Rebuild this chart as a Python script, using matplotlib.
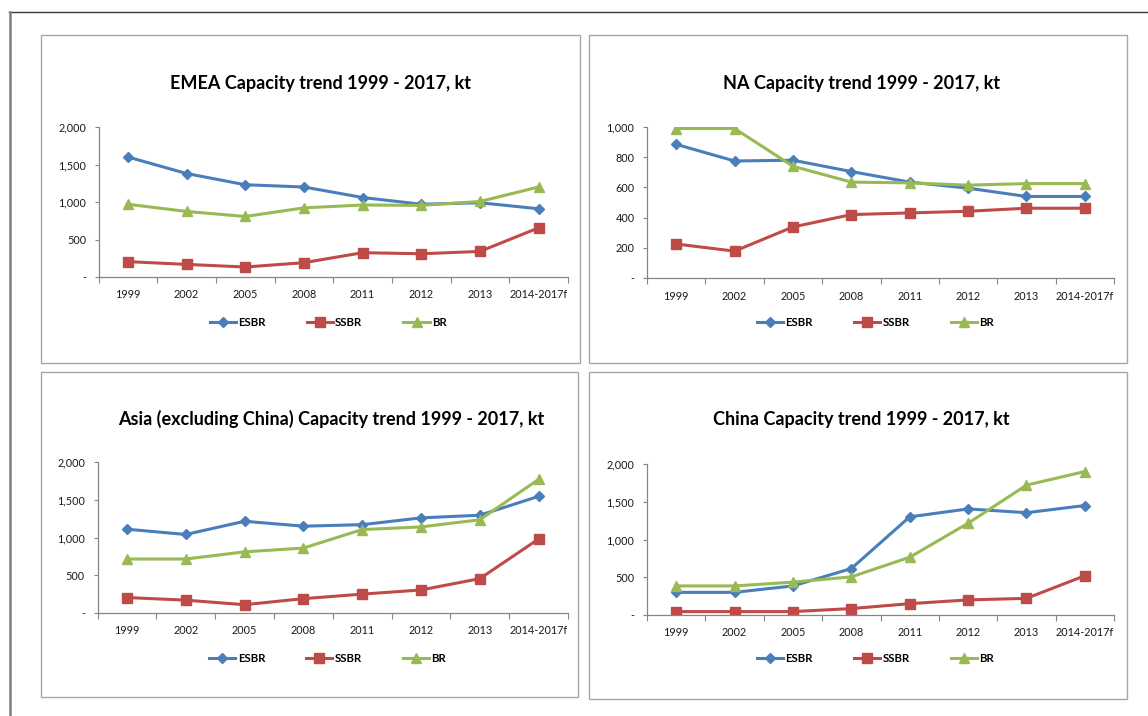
import matplotlib
matplotlib.use("Agg")
import matplotlib.pyplot as plt
from matplotlib.lines import Line2D
from matplotlib.patches import Rectangle
from matplotlib.ticker import FixedLocator, FuncFormatter

plt.rcParams["font.family"] = ["Lato", "DejaVu Sans"]

categories = ["1999", "2002", "2005", "2008", "2011", "2012", "2013", "2014-2017f"]

emea_esbr = [1600, 1380, 1230, 1200, 1060, 970, 990, 910]
emea_ssbr = [205, 168, 133, 191, 324, 310, 341, 656]
emea_br = [970, 874, 807, 922, 960, 955, 1007, 1200]

na_esbr = [885, 775, 780, 705, 635, 595, 540, 540]
na_ssbr = [225, 178, 338, 420, 431, 442, 462, 462]
na_br = [990, 990, 740, 635, 630, 615, 625, 625]

asia_esbr = [1110, 1040, 1215, 1150, 1170, 1260, 1295, 1545]
asia_ssbr = [205, 170, 110, 190, 250, 305, 455, 980]
asia_br = [715, 715, 810, 860, 1105, 1140, 1235, 1770]

china_esbr = [300, 300, 385, 615, 1300, 1405, 1355, 1450]
china_ssbr = [45, 45, 45, 85, 150, 200, 220, 520]
china_br = [385, 385, 435, 505, 765, 1215, 1720, 1900]

titles = [
    "EMEA Capacity trend 1999 - 2017, kt",
    "NA Capacity trend 1999 - 2017, kt",
    "Asia (excluding China) Capacity trend 1999 - 2017, kt",
    "China Capacity trend 1999 - 2017, kt",
]
y_max = [2000, 1000, 2000, 2000]
y_step = [500, 200, 500, 500]

series_names = ["ESBR", "SSBR", "BR"]
colors = ["#4A7EBB", "#BE4B48", "#98B954"]
markers = ["D", "s", "^"]
marker_sizes = [5.5, 7.5, 7.5]

W, H = 1148, 716
fig = plt.figure(figsize=(W / 100, H / 100), dpi=100)


def fx(x):
    return x / W


def fy(y):
    return 1 - y / H


# outer page frame
fig.add_artist(Line2D([fx(9), fx(W)], [fy(12), fy(12)], color="#3a3a3a", lw=1.0))
fig.add_artist(Line2D([fx(9.5), fx(9.5)], [fy(12), fy(H)], color="#7f7f7f", lw=1.8))

# (box left, top, right, bottom), (plot left, top, right, bottom), (title x, y), legend y
panels = [
    ((41, 35, 580, 363), (98.5, 127, 568, 277), (321, 83), 322),
    ((589, 35, 1127, 363), (647, 127, 1114, 278), (862, 83), 322),
    ((41, 372, 578, 697), (97.5, 462, 568, 613), (331, 419), 658),
    ((589, 372, 1127, 699), (647, 464, 1114, 615), (861, 419), 658),
]

data = [
    (emea_esbr, emea_ssbr, emea_br),
    (na_esbr, na_ssbr, na_br),
    (asia_esbr, asia_ssbr, asia_br),
    (china_esbr, china_ssbr, china_br),
]


def fmt_thousands(v, pos):
    if v == 0:
        return "-"
    return f"{int(v):,}"


for (box, plot, title_pos, legend_y), series, title, ymax, ystep in zip(
    panels, data, titles, y_max, y_step
):
    bl, bt, br, bb = box
    fig.add_artist(Rectangle((fx(bl), fy(bb)), fx(br - bl), (bb - bt) / H,
                             fill=False, ec="#a6a6a6", lw=1.0))
    pl, pt, pr, pb = plot
    ax = fig.add_axes([fx(pl), fy(pb), fx(pr - pl), (pb - pt) / H])
    x = list(range(len(categories)))
    handles = []
    for vals, name, c, m, ms in zip(series, series_names, colors, markers, marker_sizes):
        (h,) = ax.plot(x, vals, color=c, lw=2.2, marker=m, markersize=ms,
                       markerfacecolor=c, markeredgecolor=c, label=name)
        handles.append(h)
    ax.set_xlim(-0.5, len(categories) - 0.5)
    ax.set_ylim(0, ymax)
    ax.set_xticks(x)
    ax.set_xticklabels(categories)
    ax.xaxis.set_minor_locator(FixedLocator([i - 0.5 for i in range(len(categories) + 1)]))
    ax.tick_params(axis="x", which="major", length=0, pad=9, labelsize=7.8, colors="#1a1a1a")
    ax.tick_params(axis="x", which="minor", length=4, width=0.8, color="#868686", direction="out")
    ax.yaxis.set_major_locator(FixedLocator(list(range(0, ymax + 1, ystep))))
    ax.yaxis.set_major_formatter(FuncFormatter(fmt_thousands))
    ax.tick_params(axis="y", length=3, width=0.8, color="#868686", pad=6,
                   labelsize=7.8, labelcolor="#1a1a1a")
    for side in ["top", "right"]:
        ax.spines[side].set_visible(False)
    for side in ["left", "bottom"]:
        ax.spines[side].set_color("#868686")
        ax.spines[side].set_linewidth(0.9)
    ax.patch.set_alpha(0)
    for lbl in ax.get_xticklabels():
        lbl.set_color("#1a1a1a")

    tx, ty = title_pos
    fig.text(fx(tx), fy(ty), title, ha="center", va="center",
             fontsize=13, fontweight="bold", color="#000000")
    fig.legend(handles=handles, loc="center", bbox_to_anchor=(fx((pl + pr) / 2 - 5), fy(legend_y)),
               ncol=3, frameon=False, handlelength=2.3, columnspacing=3.6,
               handletextpad=0.2, prop={"weight": "bold", "size": 8.2})

fig.savefig("out.png", dpi=100)
